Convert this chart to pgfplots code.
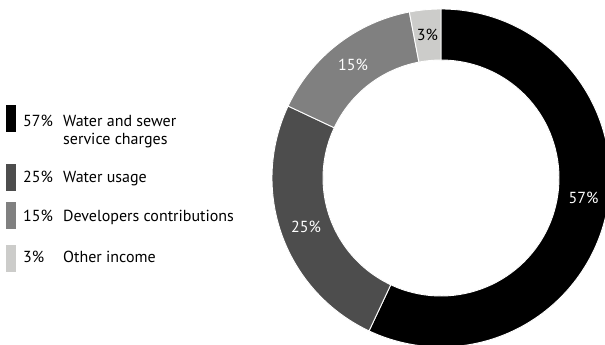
\documentclass[border=0pt]{standalone}
\usepackage{pgfplots}
\usepackage{pgfplotstable}
\pgfplotsset{compat=1.18}
\usepackage{fontspec}
\setmainfont{PT Sans}
\definecolor{s0}{HTML}{000000}
\definecolor{s1}{HTML}{4D4D4D}
\definecolor{s2}{HTML}{808080}
\definecolor{s3}{HTML}{CCCCCA}
\pgfplotstableread{
pct lc
57 white
25 white
15 white
3 black
}\shares
\begin{document}
\begin{tikzpicture}
\begin{axis}[
  at={(0,0)}, anchor=south west,
  width=605pt, height=345pt, scale only axis,
  xmin=0, xmax=605, ymin=0, ymax=345,
  hide axis, clip=false,
]
\def\cx{441}\def\cy{167}\def\Ro{169}\def\Ri{118}
\def\cum{0}
\pgfplotsforeachungrouped \i in {0,...,3}{%
  \pgfplotstablegetelem{\i}{pct}\of\shares
  \let\v\pgfplotsretval
  \pgfplotstablegetelem{\i}{lc}\of\shares
  \let\lc\pgfplotsretval
  \pgfmathsetmacro\a{90-3.6*\cum}%
  \pgfmathsetmacro\b{90-3.6*(\cum+\v)}%
  \pgfmathsetmacro\m{(\a+\b)/2}%
  \pgfmathsetmacro\xa{\cx+\Ro*cos(\a)}%
  \pgfmathsetmacro\ya{\cy+\Ro*sin(\a)}%
  \pgfmathsetmacro\xb{\cx+\Ri*cos(\b)}%
  \pgfmathsetmacro\yb{\cy+\Ri*sin(\b)}%
  \pgfmathsetmacro\lr{ifthenelse(\i==0,144,143.5)}%
  \pgfmathsetmacro\mm{ifthenelse(\i==0,-8,\m)}%
  \pgfmathsetmacro\xl{\cx+\lr*cos(\mm)}%
  \pgfmathsetmacro\yl{\cy+\lr*sin(\mm)}%
  \edef\temp{%
    \noexpand\fill[s\i, draw=white, line width=0.9pt, line join=round]
      (axis cs:\xa,\ya) arc[start angle=\a, end angle=\b, radius=\Ro pt]
      -- (axis cs:\xb,\yb) arc[start angle=\b, end angle=\a, radius=\Ri pt] -- cycle;
    \noexpand\node[text=\lc, font=\noexpand\fontsize{16}{19}\noexpand\selectfont, inner sep=0pt] at (axis cs:\xl,\yl) {\v\noexpand\%};
  }%
  \temp
  \pgfmathsetmacro\cum{\cum+\v}%
  \xdef\cum{\cum}%
}
% legend
\fill[s0] (axis cs:6,213) rectangle (axis cs:16,240);
\fill[s1] (axis cs:6,154) rectangle (axis cs:16,181);
\fill[s2] (axis cs:6,116) rectangle (axis cs:16,143);
\fill[s3] (axis cs:6,73) rectangle (axis cs:16,100);
\begin{scope}[every node/.style={anchor=base west, inner sep=0pt, font=\fontsize{16}{19}\selectfont}]
\node at (axis cs:23,218) {57\%};
\node at (axis cs:63,218) {Water and sewer};
\node at (axis cs:63,200) {service charges};
\node at (axis cs:23,162) {25\%};
\node at (axis cs:63,162) {Water usage};
\node at (axis cs:23,123) {15\%};
\node at (axis cs:63,123) {Developers contributions};
\node at (axis cs:23,82) {3\%};
\node at (axis cs:63,82) {Other income};
\end{scope}
\end{axis}
\pgfresetboundingbox
\path[use as bounding box] (0,0) rectangle (605pt,345pt);
\end{tikzpicture}
\end{document}
